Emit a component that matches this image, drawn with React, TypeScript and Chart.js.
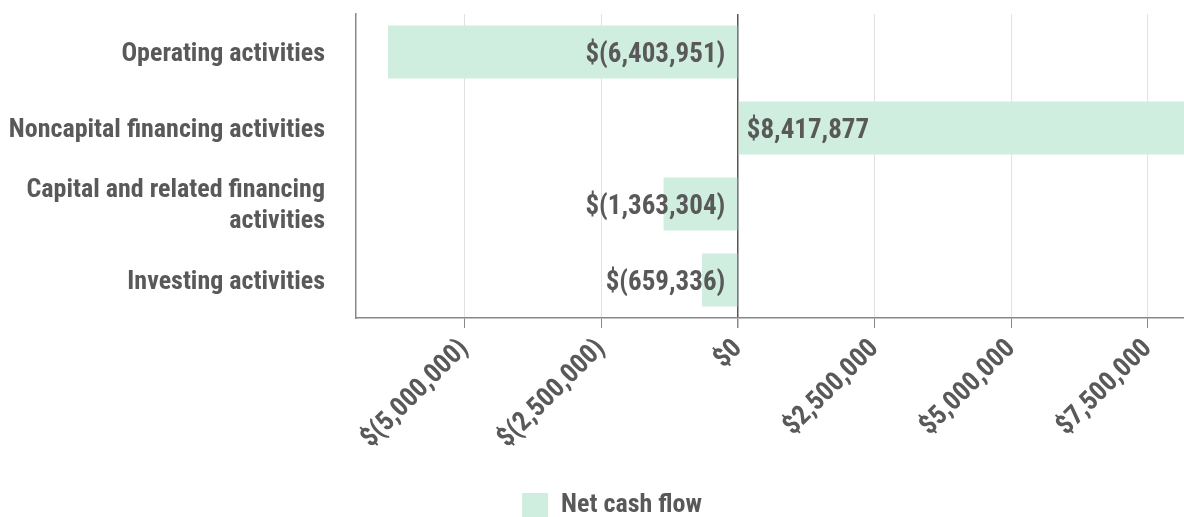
import React, { useEffect, useRef } from "react";
import { Chart, registerables } from "chart.js";

Chart.register(...registerables);

const categories: (string | string[])[] = [
  "Operating activities",
  "Noncapital financing activities",
  ["Capital and related financing", "activities"],
  "Investing activities",
];
const seriesLabel = "Net cash flow";
const netCashFlow = [-6403951, 8417877, -1363304, -659336];
const xTickValues = [-5000000, -2500000, 0, 2500000, 5000000, 7500000];

const TEXT = "#595959";
const BAR = "#cfeee0";
const FONT = "'Roboto Condensed', 'DejaVu Sans Condensed', sans-serif";
const WEIGHT = "bold";

const fmt = (v: number) => {
  const s = Math.abs(v).toLocaleString("en-US");
  return v < 0 ? `$(${s})` : `$${s}`;
};

const valueLabels = {
  id: "valueLabels",
  afterDatasetsDraw(chart: any) {
    const ctx = chart.ctx;
    const meta = chart.getDatasetMeta(0);
    const data = chart.data.datasets[0].data as number[];
    ctx.save();
    ctx.font = `${WEIGHT} 27px ${FONT}`;
    ctx.fillStyle = TEXT;
    ctx.textBaseline = "middle";
    meta.data.forEach((el: any, i: number) => {
      const v = data[i];
      const base = el.base;
      if (v < 0) {
        ctx.textAlign = "right";
        ctx.fillText(fmt(v), base - 12, el.y + 3);
      } else {
        ctx.textAlign = "left";
        ctx.fillText(fmt(v), base + 8, el.y + 3);
      }
    });
    ctx.restore();
  },
};

const legendShift = {
  id: "legendShift",
  afterLayout(chart: any) {
    if (chart.legend) chart.legend.left = 40;
  },
};

export default function App() {
  const ref = useRef<HTMLCanvasElement>(null);
  useEffect(() => {
    document.body.style.margin = "0";
    const chart = new Chart(ref.current!, {
      type: "bar",
      data: {
        labels: categories as any,
        datasets: [
          {
            label: seriesLabel,
            data: netCashFlow,
            backgroundColor: BAR,
            borderWidth: 0,
            categoryPercentage: 1,
            barPercentage: 0.7,
          },
        ],
      },
      options: {
        indexAxis: "y",
        animation: false,
        responsive: false,
        maintainAspectRatio: false,
        layout: { padding: { top: 14, left: 0, right: 0, bottom: -11 } },
        plugins: {
          legend: {
            position: "bottom",
            labels: {
              color: TEXT,
              font: { family: FONT, size: 26, weight: WEIGHT as any },
              boxWidth: 26,
              boxHeight: 24,
              padding: 0,
            },
          },
          tooltip: { enabled: false },
        },
        scales: {
          x: {
            type: "linear",
            min: -6990000,
            max: 8160000,
            afterBuildTicks: (s: any) => {
              s.ticks = xTickValues.map((v) => ({ value: v }));
            },
            ticks: {
              minRotation: 45,
              maxRotation: 45,
              color: TEXT,
              font: { family: FONT, size: 27, weight: WEIGHT as any },
              padding: 5,
              callback: (v: any) => fmt(Number(v)),
            },
            grid: {
              color: (c: any) => (c.tick && c.tick.value === 0 ? "#555555" : "#e2e2e2"),
              lineWidth: (c: any) => (c.tick && c.tick.value === 0 ? 1.5 : 1),
              tickColor: "#888888",
              tickLength: 10,
            },
            border: { color: "#888888", width: 1.5 },
            afterFit: (s: any) => {
              s.height = 174;
              s.paddingLeft = 0;
              s.paddingRight = 0;
            },
          },
          y: {
            grid: { display: false, drawTicks: false },
            border: { display: true, color: "#888888", width: 1.5 },
            ticks: {
              color: TEXT,
              padding: 31,
              labelOffset: 2,
              font: { family: FONT, size: 26, weight: WEIGHT as any, lineHeight: 1.17 },
            },
            afterFit: (s: any) => {
              s.width = 356;
              s.paddingTop = 0;
              s.paddingBottom = 0;
            },
          },
        },
      },
      plugins: [valueLabels, legendShift],
    });
    return () => chart.destroy();
  }, []);
  return (
    <div style={{ position: "fixed", left: 0, top: 0, width: 1184, height: 517 }}>
      <canvas ref={ref} width={1184} height={517} style={{ width: 1184, height: 517 }} />
    </div>
  );
}
